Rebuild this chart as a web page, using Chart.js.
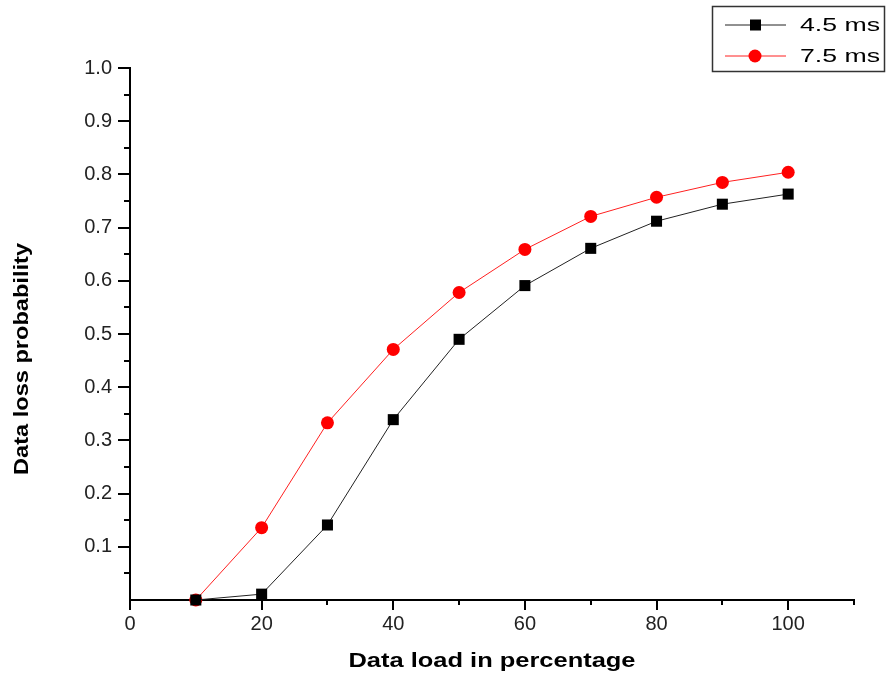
<!DOCTYPE html>
<html>
<head>
<meta charset="utf-8">
<script src="https://cdn.jsdelivr.net/npm/chart.js@4.4.0/dist/chart.umd.min.js"></script>
<style>
  html, body { margin: 0; padding: 0; background: #fff; }
  #wrap { width: 886px; height: 677px; }
</style>
</head>
<body>
<div id="wrap"><canvas id="chart" width="886" height="677"></canvas></div>
<script>
// data
const loads = [10, 20, 30, 40, 50, 60, 70, 80, 90, 100];
const loss45 = [0.0, 0.011, 0.141, 0.339, 0.49, 0.591, 0.661, 0.712, 0.744, 0.763];
const loss75 = [0.0, 0.136, 0.333, 0.471, 0.578, 0.659, 0.721, 0.757, 0.785, 0.804];
const seriesNames = ["4.5 ms", "7.5 ms"];
const xTickLabels = [0, 20, 40, 60, 80, 100];
const yTickLabels = [0.1, 0.2, 0.3, 0.4, 0.5, 0.6, 0.7, 0.8, 0.9, 1.0];

const FONT = "'Liberation Sans', Arial, sans-serif";

function toPoints(ys) {
    return loads.map((x, i) => ({ x: x, y: ys[i] }));
}

// text in the figure is a bit wider than the font, so stretch it to a width
function wideText(ctx, text, cx, cy, width) {
    const w = ctx.measureText(text).width;
    ctx.save();
    ctx.translate(cx, cy);
    ctx.scale(width / w, 1);
    ctx.fillText(text, 0, 0);
    ctx.restore();
}

// outward tick marks, long for labelled ones, short for the rest
const tickMarks = {
    id: "tickMarks",
    afterDraw(chart) {
        const ctx = chart.ctx;
        const xs = chart.scales.x, ys = chart.scales.y;
        const area = chart.chartArea;
        ctx.save();
        ctx.strokeStyle = "#000";
        ctx.lineWidth = 2;
        for (let v = 0; v <= 110; v += 10) {
            const px = Math.round(xs.getPixelForValue(v));
            const len = (v % 20 === 0 && v <= 100) ? 10 : 5;
            ctx.beginPath();
            ctx.moveTo(px, area.bottom);
            ctx.lineTo(px, area.bottom + len);
            ctx.stroke();
        }
        for (let i = 1; i <= 20; i++) {
            const v = i * 0.05;
            const py = Math.round(ys.getPixelForValue(v));
            const len = (i % 2 === 0) ? 12 : 6;
            ctx.beginPath();
            ctx.moveTo(area.left, py);
            ctx.lineTo(area.left - len, py);
            ctx.stroke();
        }
        ctx.restore();
    }
};

// axis titles and the boxed legend
const decorations = {
    id: "decorations",
    afterDraw(chart) {
        const ctx = chart.ctx;
        const area = chart.chartArea;
        ctx.save();
        ctx.fillStyle = "#000";
        ctx.font = "bold 21px " + FONT;
        ctx.textAlign = "center";
        ctx.textBaseline = "middle";
        wideText(ctx, "Data load in percentage", (area.left + area.right) / 2, 661, 287);
        ctx.translate(22, 359);
        ctx.rotate(-Math.PI / 2);
        wideText(ctx, "Data loss probability", 0, 0, 232);
        ctx.restore();

        // legend
        ctx.save();
        ctx.strokeStyle = "#333";
        ctx.lineWidth = 1.5;
        ctx.strokeRect(712.5, 6.5, 172, 65);
        const rows = [25, 56];
        chart.data.datasets.forEach((ds, i) => {
            const y = rows[i];
            ctx.strokeStyle = ds.borderColor;
            ctx.lineWidth = 1;
            ctx.beginPath();
            ctx.moveTo(725, y);
            ctx.lineTo(786, y);
            ctx.stroke();
            ctx.fillStyle = ds.pointBackgroundColor;
            if (ds.pointStyle === "rect") {
                ctx.fillRect(750, y - 5.5, 11, 11);
            } else {
                ctx.beginPath();
                ctx.arc(755, y, 6.5, 0, Math.PI * 2);
                ctx.fill();
            }
            ctx.fillStyle = "#000";
            ctx.font = "19px " + FONT;
            ctx.textAlign = "left";
            ctx.textBaseline = "middle";
            wideText(ctx, ds.label, 800, y + 1, 80);
        });
        ctx.restore();
    }
};

new Chart(document.getElementById("chart"), {
    type: "line",
    data: {
        datasets: [
            {
                label: seriesNames[0],
                data: toPoints(loss45),
                borderColor: "#222",
                borderWidth: 1,
                pointStyle: "rect",
                pointRadius: 7.8,
                pointBackgroundColor: "#000",
                pointBorderColor: "#000",
                pointBorderWidth: 0,
                tension: 0
            },
            {
                label: seriesNames[1],
                data: toPoints(loss75),
                borderColor: "#ff2020",
                borderWidth: 1,
                pointStyle: "circle",
                pointRadius: 6.5,
                pointBackgroundColor: "#ff0000",
                pointBorderColor: "#ff0000",
                pointBorderWidth: 0,
                tension: 0
            }
        ]
    },
    options: {
        responsive: false,
        animation: false,
        clip: false,
        layout: { padding: { top: 68, right: 32, left: 0, bottom: 0 } },
        plugins: {
            legend: { display: false },
            tooltip: { enabled: false }
        },
        scales: {
            x: {
                type: "linear",
                min: 0,
                max: 110,
                grid: { display: false, drawTicks: false },
                border: { display: true, color: "#000", width: 2 },
                ticks: {
                    stepSize: 10,
                    padding: 12,
                    autoSkip: false,
                    maxRotation: 0,
                    color: "#222",
                    font: { family: FONT, size: 20 },
                    callback: (v) => xTickLabels.includes(v) ? String(v) : ""
                },
                afterFit(scale) { scale.height = 77; }
            },
            y: {
                min: 0,
                max: 1.0,
                grid: { display: false, drawTicks: false },
                border: { display: true, color: "#000", width: 2 },
                ticks: {
                    stepSize: 0.1,
                    padding: 18,
                    color: "#222",
                    font: { family: FONT, size: 20 },
                    callback: (v) => {
                        const r = Math.round(v * 10) / 10;
                        return yTickLabels.includes(r) ? r.toFixed(1) : "";
                    }
                },
                afterFit(scale) { scale.width = 130; }
            }
        }
    },
    plugins: [tickMarks, decorations]
});
</script>
</body>
</html>
